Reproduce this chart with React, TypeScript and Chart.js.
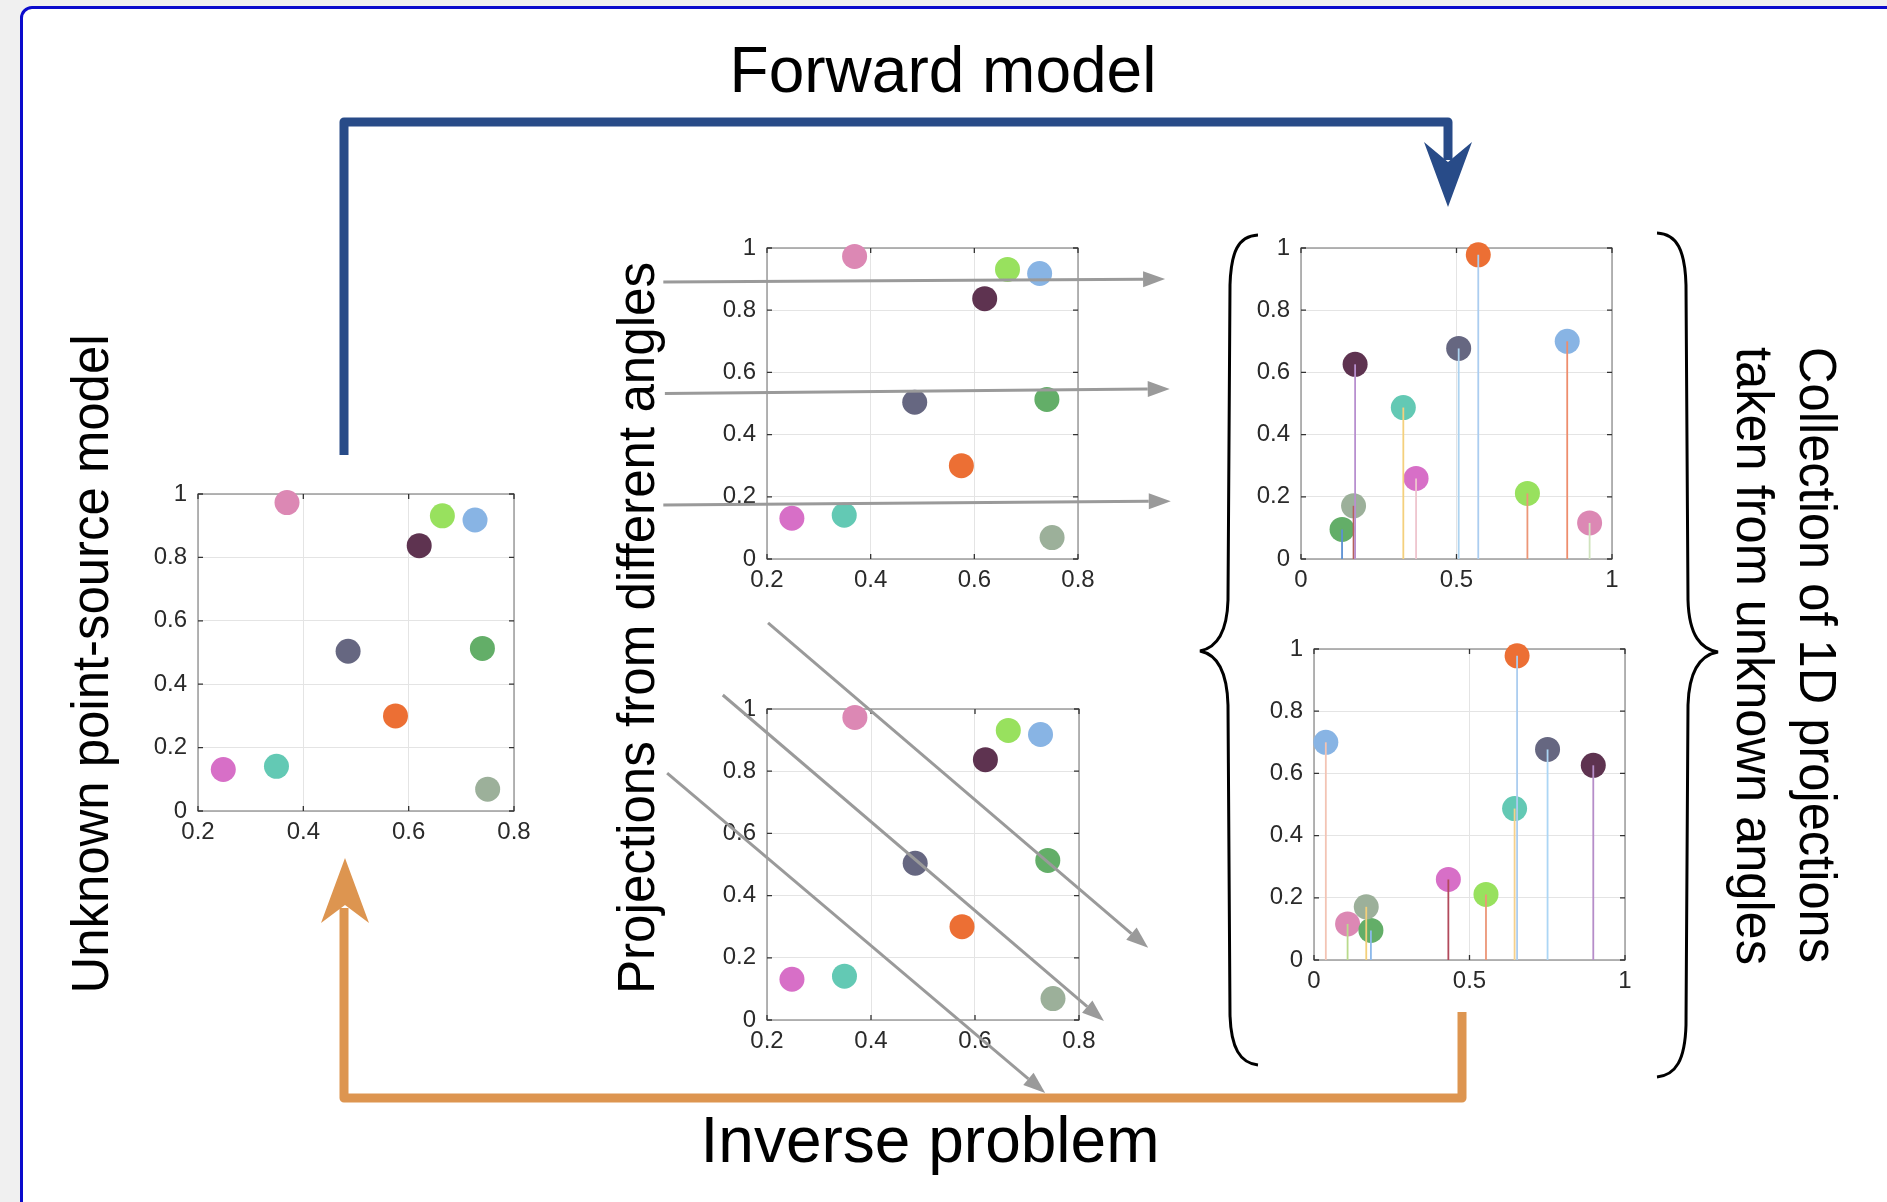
import React, { useEffect, useRef } from 'react';
import { Chart, registerables } from 'chart.js';

Chart.register(...registerables);

const FONT = '"Liberation Sans", Arial, Helvetica, sans-serif';

// ---------------- data ----------------
// ten point sources (unknown point-source model)
const sourceNames = ['rose', 'lime', 'sky', 'plum', 'slate', 'green', 'orange', 'magenta', 'teal', 'sage'];
const sourceX = [0.369, 0.664, 0.726, 0.62, 0.485, 0.74, 0.575, 0.248, 0.349, 0.75];
const sourceY = [0.973, 0.931, 0.918, 0.837, 0.504, 0.513, 0.3, 0.131, 0.141, 0.069];
const sourceColors = ['#dc88b4', '#98e15e', '#88b4e4', '#5e3350', '#666781', '#63ae68', '#ec6f34', '#d76fc7', '#63c9b4', '#9cb09a'];

// amplitudes of each source in the 1D projections
const projAmplitude = [0.116, 0.211, 0.7, 0.626, 0.677, 0.095, 0.978, 0.259, 0.487, 0.171];

// projection A (top right)
const projAX = [0.928, 0.728, 0.856, 0.174, 0.507, 0.132, 0.57, 0.37, 0.329, 0.169];
const projAStemColors = ['#cfe3bd', '#ec9677', '#ee8d6d', '#b88fcf', '#acd3f0', '#5b90d3', '#abcdf0', '#eec5ce', '#f4d07d', '#b5615c'];

// projection B (bottom right)
const projBX = [0.108, 0.553, 0.038, 0.898, 0.751, 0.183, 0.653, 0.432, 0.645, 0.168];
const projBStemColors = ['#b9da8c', '#ec9677', '#f3c4b4', '#b68dc9', '#acd6f5', '#8cb9eb', '#abcdf0', '#b24a5c', '#f5d18c', '#f3cf7a'];

// tick values / labels
const planeXTicks = [0.2, 0.4, 0.6, 0.8];
const planeXTickLabels = ['0.2', '0.4', '0.6', '0.8'];
const yTicks = [0, 0.2, 0.4, 0.6, 0.8, 1];
const yTickLabels = ['0', '0.2', '0.4', '0.6', '0.8', '1'];
const projXTicks = [0, 0.5, 1];
const projXTickLabels = ['0', '0.5', '1'];

// projection rays in data coordinates [x0, y0, x1, y1]
const horizontalRays = [
  [0.0, 0.891, 0.968, 0.9],
  [0.003, 0.532, 0.977, 0.547],
  [0.0, 0.174, 0.979, 0.186],
];
const diagonalRays = [
  [0.202, 1.277, 0.933, 0.232],
  [0.115, 1.045, 0.848, -0.003],
  [0.008, 0.794, 0.735, -0.235],
];

// ---------------- chart helpers ----------------
const framePlugin: any = {
  id: 'frame',
  beforeDatasetsDraw(chart: any) {
    const { ctx, chartArea: a } = chart;
    const xs = chart.scales.x;
    const ys = chart.scales.y;
    ctx.save();
    ctx.strokeStyle = '#9c9c9c';
    ctx.lineWidth = 1.5;
    ctx.strokeRect(a.left, a.top, a.right - a.left, a.bottom - a.top);
    ctx.strokeStyle = '#333';
    ctx.lineWidth = 1.3;
    ctx.beginPath();
    for (const t of ys.ticks) {
      const py = ys.getPixelForValue(t.value);
      ctx.moveTo(a.left, py);
      ctx.lineTo(a.left + 5, py);
      ctx.moveTo(a.right - 5, py);
      ctx.lineTo(a.right, py);
    }
    for (const t of xs.ticks) {
      const px = xs.getPixelForValue(t.value);
      ctx.moveTo(px, a.bottom);
      ctx.lineTo(px, a.bottom - 5);
      ctx.moveTo(px, a.top);
      ctx.lineTo(px, a.top + 5);
    }
    ctx.stroke();
    ctx.restore();
  },
  afterDatasetsDraw(chart: any, _args: any, opts: any) {
    const rays = (opts && opts.rays) || [];
    if (!rays.length) return;
    const { ctx } = chart;
    const xs = chart.scales.x;
    const ys = chart.scales.y;
    ctx.save();
    ctx.strokeStyle = '#9a9a9a';
    ctx.fillStyle = '#9a9a9a';
    ctx.lineWidth = 3;
    for (const r of rays) {
      const px0 = xs.getPixelForValue(r[0]);
      const py0 = ys.getPixelForValue(r[1]);
      const px1 = xs.getPixelForValue(r[2]);
      const py1 = ys.getPixelForValue(r[3]);
      const ang = Math.atan2(py1 - py0, px1 - px0);
      const HL = 22;
      const HW = 8;
      const c = Math.cos(ang);
      const s = Math.sin(ang);
      const bx = px1 - HL * c;
      const by = py1 - HL * s;
      ctx.beginPath();
      ctx.moveTo(px0, py0);
      ctx.lineTo(bx, by);
      ctx.stroke();
      ctx.beginPath();
      ctx.moveTo(px1, py1);
      ctx.lineTo(bx + HW * s, by - HW * c);
      ctx.lineTo(bx - HW * s, by + HW * c);
      ctx.closePath();
      ctx.fill();
    }
    ctx.restore();
  },
};

type Rect = { x: number; y: number; w: number; h: number };
type Area = { l: number; t: number; r: number; b: number };
type Spec = {
  canvas: Rect;
  plot: Area;
  xMin: number;
  xMax: number;
  xTicks: number[];
  xLabels: string[];
  datasets: any[];
  rays?: number[][];
};

function pointsDataset(xs: number[], ys: number[]) {
  return {
    type: 'scatter',
    data: xs.map((x, i) => ({ x, y: ys[i] })),
    pointBackgroundColor: sourceColors,
    pointBorderWidth: 0,
    pointRadius: 12.5,
    showLine: false,
    clip: false,
    order: 1,
  };
}

function stemDatasets(xs: number[], amps: number[], colors: string[]) {
  return xs.map((x, i) => ({
    type: 'scatter',
    data: [
      { x, y: 0 },
      { x, y: amps[i] },
    ],
    showLine: true,
    borderColor: colors[i],
    borderWidth: 1.8,
    pointRadius: 0,
    clip: false,
    order: 0,
  }));
}

const YW = 60;
const XH = 44;
const tickFont = { family: FONT, size: 24 };

function PlotCanvas({ spec }: { spec: Spec }) {
  const ref = useRef<HTMLCanvasElement>(null);
  const c = spec.canvas;
  const p = spec.plot;
  useEffect(() => {
    const chart = new Chart(ref.current as any, {
      type: 'scatter',
      data: { datasets: spec.datasets },
      options: {
        animation: false,
        responsive: false,
        devicePixelRatio: 1,
        events: [],
        layout: {
          padding: {
            left: p.l - c.x - YW,
            top: p.t - c.y,
            right: c.x + c.w - p.r,
            bottom: c.y + c.h - p.b - XH,
          },
        },
        plugins: {
          legend: { display: false },
          tooltip: { enabled: false },
          frame: { rays: spec.rays || [] },
        },
        scales: {
          x: {
            type: 'linear',
            min: spec.xMin,
            max: spec.xMax,
            afterFit: (s: any) => {
              s.height = XH;
            },
            afterBuildTicks: (s: any) => {
              s.ticks = spec.xTicks.map((v) => ({ value: v }));
            },
            ticks: {
              callback: (_v: any, i: number) => spec.xLabels[i],
              font: tickFont,
              color: '#2a2a2a',
              padding: 7,
              maxRotation: 0,
              autoSkip: false,
            },
            grid: { color: '#e4e4e4', lineWidth: 1, drawTicks: false },
            border: { display: false },
          },
          y: {
            type: 'linear',
            min: 0,
            max: 1,
            afterFit: (s: any) => {
              s.width = YW;
            },
            afterBuildTicks: (s: any) => {
              s.ticks = yTicks.map((v) => ({ value: v }));
            },
            ticks: {
              callback: (_v: any, i: number) => yTickLabels[i],
              font: tickFont,
              color: '#2a2a2a',
              padding: 11,
              autoSkip: false,
            },
            grid: { color: '#e4e4e4', lineWidth: 1, drawTicks: false },
            border: { display: false },
          },
        },
      } as any,
      plugins: [framePlugin],
    } as any);
    return () => chart.destroy();
  }, []);
  return (
    <canvas
      ref={ref}
      width={c.w}
      height={c.h}
      style={{ position: 'absolute', left: c.x, top: c.y, width: c.w, height: c.h }}
    />
  );
}

const specs: Spec[] = [
  {
    canvas: { x: 120, y: 465, w: 440, h: 395 },
    plot: { l: 198, t: 494, r: 514, b: 811 },
    xMin: 0.2,
    xMax: 0.8,
    xTicks: planeXTicks,
    xLabels: planeXTickLabels,
    datasets: [pointsDataset(sourceX, sourceY)],
  },
  {
    canvas: { x: 640, y: 215, w: 560, h: 385 },
    plot: { l: 767, t: 248, r: 1078, b: 559 },
    xMin: 0.2,
    xMax: 0.8,
    xTicks: planeXTicks,
    xLabels: planeXTickLabels,
    datasets: [pointsDataset(sourceX, sourceY)],
    rays: horizontalRays,
  },
  {
    canvas: { x: 640, y: 600, w: 545, h: 510 },
    plot: { l: 767, t: 709, r: 1079, b: 1020 },
    xMin: 0.2,
    xMax: 0.8,
    xTicks: planeXTicks,
    xLabels: planeXTickLabels,
    datasets: [pointsDataset(sourceX, sourceY)],
    rays: diagonalRays,
  },
  {
    canvas: { x: 1230, y: 215, w: 420, h: 385 },
    plot: { l: 1301, t: 248, r: 1612, b: 559 },
    xMin: 0,
    xMax: 1,
    xTicks: projXTicks,
    xLabels: projXTickLabels,
    datasets: [pointsDataset(projAX, projAmplitude), ...stemDatasets(projAX, projAmplitude, projAStemColors)],
  },
  {
    canvas: { x: 1240, y: 615, w: 420, h: 390 },
    plot: { l: 1314, t: 649, r: 1625, b: 960 },
    xMin: 0,
    xMax: 1,
    xTicks: projXTicks,
    xLabels: projXTickLabels,
    datasets: [pointsDataset(projBX, projAmplitude), ...stemDatasets(projBX, projAmplitude, projBStemColors)],
  },
];

const BLUE = '#284b88';
const ORANGE = '#dd9550';

function Decorations() {
  return (
    <svg
      width={1887}
      height={1202}
      style={{ position: 'absolute', left: 0, top: 0 }}
      xmlns="http://www.w3.org/2000/svg"
    >
      {/* forward model arrow */}
      <path d="M344,455 L344,122 L1448,122 L1448,160" fill="none" stroke={BLUE} strokeWidth={9} strokeLinejoin="round" />
      <polygon points="1448,207 1424,142 1448,162 1472,142" fill={BLUE} />
      {/* inverse problem arrow */}
      <path d="M1462,1012 L1462,1098 L344,1098 L344,908" fill="none" stroke={ORANGE} strokeWidth={9} strokeLinejoin="round" />
      <polygon points="345,858 321,923 345,905 369,923" fill={ORANGE} />
      {/* braces */}
      <path
        d="M1258,235 C1238,236 1231,252 1230,285 L1228,600 C1227,635 1215,648 1200,651 C1215,654 1227,668 1228,705 L1230,1015 C1231,1048 1240,1063 1258,1065"
        fill="none"
        stroke="#000"
        strokeWidth={3}
      />
      <path
        d="M1657,233 C1677,234 1685,250 1686,285 L1688,600 C1689,636 1701,649 1718,652 C1701,655 1689,669 1688,705 L1686,1025 C1685,1060 1676,1075 1657,1077"
        fill="none"
        stroke="#000"
        strokeWidth={3}
      />
      {/* texts */}
      <text x={943} y={92} textAnchor="middle" fontFamily={FONT} fontSize={64} fill="#000">
        Forward model
      </text>
      <text x={930} y={1162} textAnchor="middle" fontFamily={FONT} fontSize={64} fill="#000">
        Inverse problem
      </text>
      <text
        transform="translate(108,664) rotate(-90)"
        textAnchor="middle"
        fontFamily={FONT}
        fontSize={51}
        fill="#000"
        textLength={659}
        lengthAdjust="spacingAndGlyphs"
      >
        Unknown point-source model
      </text>
      <text
        transform="translate(654,628) rotate(-90)"
        textAnchor="middle"
        fontFamily={FONT}
        fontSize={51}
        fill="#000"
        textLength={732}
        lengthAdjust="spacingAndGlyphs"
      >
        Projections from different angles
      </text>
      <text
        transform="translate(1800,655) rotate(90)"
        textAnchor="middle"
        fontFamily={FONT}
        fontSize={51}
        fill="#000"
        textLength={616}
        lengthAdjust="spacingAndGlyphs"
      >
        Collection of 1D projections
      </text>
      <text
        transform="translate(1737,656) rotate(90)"
        textAnchor="middle"
        fontFamily={FONT}
        fontSize={51}
        fill="#000"
        textLength={618}
        lengthAdjust="spacingAndGlyphs"
      >
        taken from unknown angles
      </text>
    </svg>
  );
}

export default function App() {
  return (
    <div
      style={{
        position: 'fixed',
        left: 0,
        top: 0,
        width: 1887,
        height: 1202,
        overflow: 'hidden',
        background: '#f0f0f0',
      }}
    >
      <div
        style={{
          position: 'absolute',
          left: 20,
          top: 6,
          width: 1920,
          height: 1300,
          border: '3px solid #0b0bcc',
          borderRadius: 12,
          background: '#fff',
          boxSizing: 'border-box',
        }}
      />
      <Decorations />
      {specs.map((s, i) => (
        <PlotCanvas key={i} spec={s} />
      ))}
    </div>
  );
}
